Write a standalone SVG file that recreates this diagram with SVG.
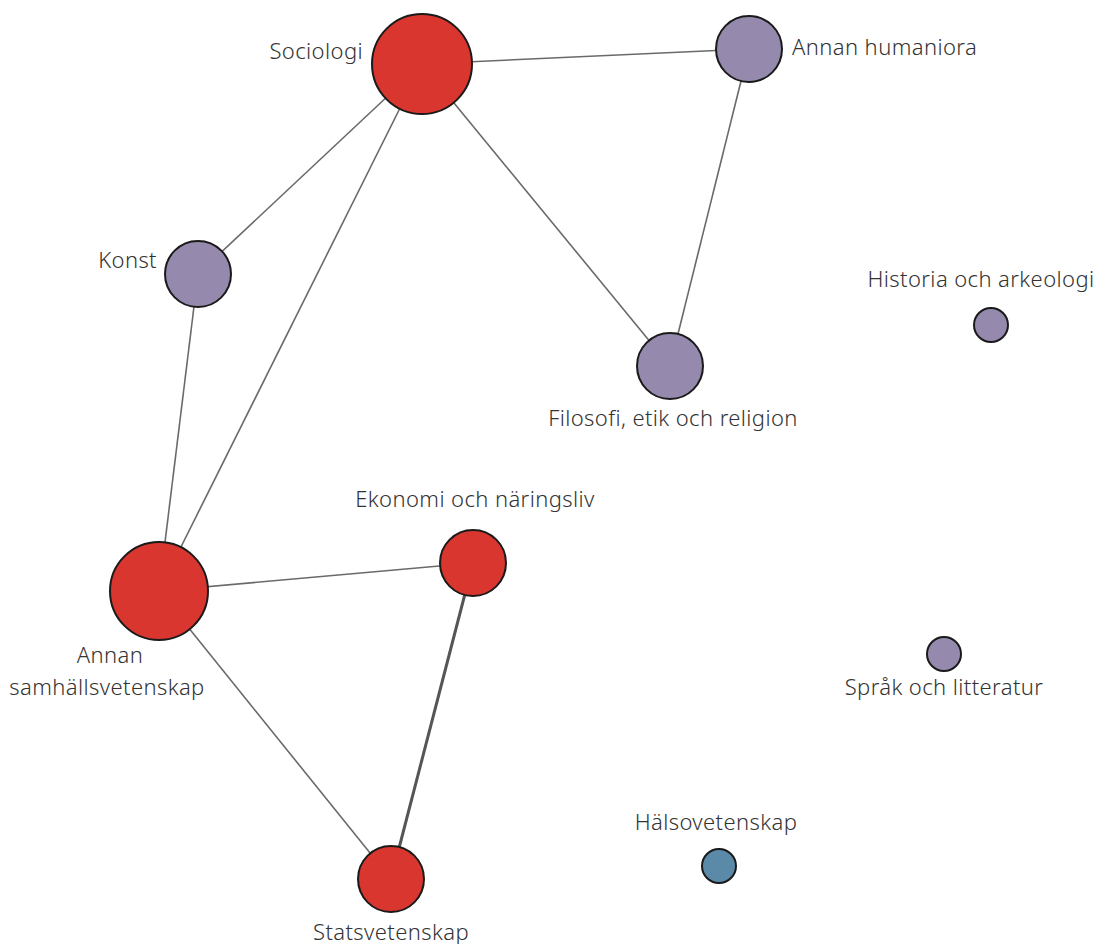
<svg xmlns="http://www.w3.org/2000/svg" width="1105" height="944" viewBox="0 0 1105 944">
<style>
.e{stroke:#6a6a6a;stroke-width:1.6;fill:none}
.n{stroke:#1a1a1a;stroke-width:2}
.r{fill:#d8362f}
.p{fill:#958aad}
.b{fill:#5a8aa8}
text{font-family:"Noto Sans","Liberation Sans",sans-serif;font-size:22px;font-weight:300;fill:#333;letter-spacing:0.4px}
.m{text-anchor:middle}
.en{text-anchor:end}
</style>
<rect width="1105" height="944" fill="#fff"/>
<g id="edges">
<line class="e" x1="422" y1="64" x2="749" y2="49"/>
<line class="e" x1="422" y1="64" x2="198" y2="274"/>
<line class="e" x1="422" y1="64" x2="159" y2="591"/>
<line class="e" x1="422" y1="64" x2="670" y2="366"/>
<line class="e" x1="749" y1="49" x2="670" y2="366"/>
<line class="e" x1="198" y1="274" x2="159" y2="591"/>
<line class="e" x1="159" y1="591" x2="473" y2="563"/>
<line class="e" x1="159" y1="591" x2="391" y2="879"/>
<line class="e" x1="473" y1="563" x2="391" y2="879" style="stroke-width:3;stroke:#555"/>
</g>
<g id="sociologi"><circle class="n r" cx="422" cy="64" r="50"/><text class="en" x="363" y="59">Sociologi</text></g>
<g id="annan-humaniora"><circle class="n p" cx="749" cy="49" r="33"/><text x="792" y="55">Annan humaniora</text></g>
<g id="konst"><circle class="n p" cx="198" cy="274" r="33"/><text class="en" x="157" y="268">Konst</text></g>
<g id="filosofi"><circle class="n p" cx="670" cy="366" r="33"/><text class="m" x="673" y="426">Filosofi, etik och religion</text></g>
<g id="historia"><circle class="n p" cx="991" cy="325" r="17"/><text class="m" x="981" y="287">Historia och arkeologi</text></g>
<g id="annan-samh"><circle class="n r" cx="159" cy="591" r="49"/><text class="m" x="110" y="663">Annan</text><text class="m" x="107" y="695">samhällsvetenskap</text></g>
<g id="ekonomi"><circle class="n r" cx="473" cy="563" r="33"/><text class="m" x="475" y="507">Ekonomi och näringsliv</text></g>
<g id="sprak"><circle class="n p" cx="944" cy="654" r="17"/><text class="m" x="944" y="695">Språk och litteratur</text></g>
<g id="halsovetenskap"><circle class="n b" cx="719" cy="866" r="17"/><text class="m" x="716" y="830">Hälsovetenskap</text></g>
<g id="statsvetenskap"><circle class="n r" cx="391" cy="879" r="33"/><text class="m" x="391" y="940">Statsvetenskap</text></g>
</svg>
